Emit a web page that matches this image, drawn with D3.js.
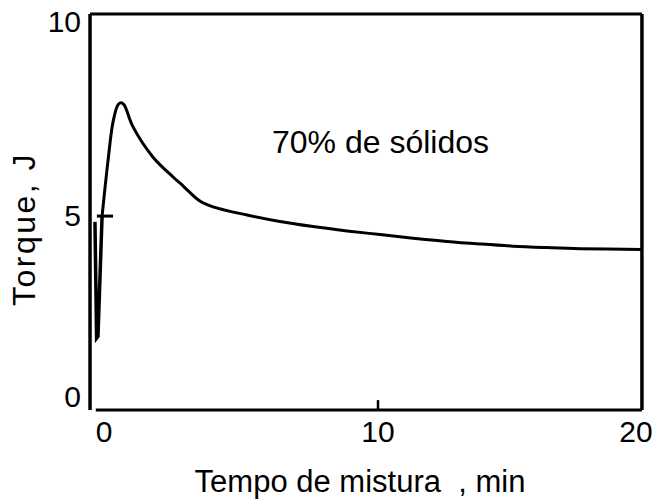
<!DOCTYPE html>
<html>
<head>
<meta charset="utf-8">
<script src="https://cdn.jsdelivr.net/npm/d3@7"></script>
<style>
  body { margin: 0; background: #fff; }
  svg text { font-family: "Liberation Sans", Arial, sans-serif; fill: #000; white-space: pre; }
</style>
</head>
<body>
<svg width="654" height="499"></svg>
<script>
// start-up spike (min, J)
var tempoPico = [-0.33, -0.27, -0.22, -0.07];
var torquePico = [4.81, 1.6, 1.65, 4.97];

// torque curve after the spike (min, J)
var tempo = [-0.07, 0.15, 0.33, 0.51, 0.62, 0.73, 1.06, 1.79, 2.52, 2.9, 3.5, 3.98, 5.22, 6.42, 7.63, 8.87, 10.08, 11.36, 12.67, 13.95, 15.23, 16.55, 17.83, 20.2];
var torque = [4.97, 6.42, 7.4, 7.84, 7.89, 7.84, 7.27, 6.49, 5.98, 5.74, 5.36, 5.21, 5.0, 4.82, 4.68, 4.56, 4.46, 4.36, 4.27, 4.2, 4.14, 4.1, 4.07, 4.05];

var xTicks = [0, 10, 20],
  yTicks = [0, 5, 10];

// frame limits in data units (the scan is slightly distorted, so scales are piecewise)
var xMin = -0.51, xMax = 20.23, xStart = -0.3,
  yMin = -0.39, yMax = 10.18;

// small horizontal cross mark on the rising branch
var crossX = [-0.26, 0.33],
  crossY = 4.97;

var anotacao = "70% de sólidos",
  tituloX = "Tempo de mistura  , min",
  tituloY = "Torque, J";

function drawGraph() {
  var x = d3.scaleLinear().domain([0, 10, 20]).range([104, 378, 636]),
    y = d3.scaleLinear().domain([0, 5, 10]).range([396, 215, 21]);

  var svg = d3.select("svg");

  // frame
  var frame = svg.append("g").attr("stroke", "#000").attr("fill", "none");
  frame.append("line")
    .attr("x1", x(xMin)).attr("x2", x(xMin))
    .attr("y1", y(yMax)).attr("y2", y(yMin))
    .attr("stroke-width", 3.5);
  frame.append("line")
    .attr("x1", x(xMin)).attr("x2", x(xMax))
    .attr("y1", y(yMax)).attr("y2", y(yMax))
    .attr("stroke-width", 3);
  frame.append("line")
    .attr("x1", x(xMax)).attr("x2", x(xMax))
    .attr("y1", y(yMax)).attr("y2", y(yMin))
    .attr("stroke-width", 3.5);
  frame.append("line")
    .attr("x1", x(xStart)).attr("x2", x(xMax))
    .attr("y1", y(yMin)).attr("y2", y(yMin))
    .attr("stroke-width", 3);

  // the only visible tick, at 10 min
  frame.append("line")
    .attr("x1", x(10)).attr("x2", x(10))
    .attr("y1", y(yMin)).attr("y2", y(yMin) - 10)
    .attr("stroke-width", 2.5);

  // tick labels
  svg.append("g")
    .selectAll("text")
    .data(xTicks)
    .enter()
    .append("text")
    .attr("x", (d) => x(d))
    .attr("y", 442)
    .attr("text-anchor", "middle")
    .attr("font-size", 30)
    .text((d) => d);

  svg.append("g")
    .selectAll("text")
    .data(yTicks)
    .enter()
    .append("text")
    .attr("x", 81)
    .attr("y", (d) => y(d))
    .attr("dy", "0.36em")
    .attr("text-anchor", "end")
    .attr("font-size", 30)
    .text((d) => d);

  // spike (straight segments) and the smooth decay
  var spike = d3.line()
    .x((d) => x(d[0]))
    .y((d) => y(d[1]));

  var line = d3.line()
    .x((d) => x(d[0]))
    .y((d) => y(d[1]))
    .curve(d3.curveCatmullRom.alpha(0.5));

  svg.append("path")
    .datum(tempoPico.map((t, i) => [t, torquePico[i]]))
    .attr("d", spike)
    .attr("fill", "none")
    .attr("stroke", "#000")
    .attr("stroke-width", 3.5)
    .attr("stroke-linejoin", "miter");

  svg.append("path")
    .datum(tempo.map((t, i) => [t, torque[i]]))
    .attr("d", line)
    .attr("fill", "none")
    .attr("stroke", "#000")
    .attr("stroke-width", 3)
    .attr("stroke-linejoin", "round");

  svg.append("line")
    .attr("x1", x(crossX[0])).attr("x2", x(crossX[1]))
    .attr("y1", y(crossY)).attr("y2", y(crossY))
    .attr("stroke", "#000")
    .attr("stroke-width", 3);

  // texts
  svg.append("text")
    .attr("x", 272)
    .attr("y", 153)
    .attr("font-size", 32)
    .text(anotacao);

  svg.append("text")
    .attr("x", 360)
    .attr("y", 492)
    .attr("text-anchor", "middle")
    .attr("font-size", 31)
    .text(tituloX);

  svg.append("text")
    .attr("transform", "translate(35,229) rotate(-90)")
    .attr("text-anchor", "middle")
    .attr("font-size", 32)
    .attr("letter-spacing", 2.5)
    .text(tituloY);
}

drawGraph();
</script>
</body>
</html>
